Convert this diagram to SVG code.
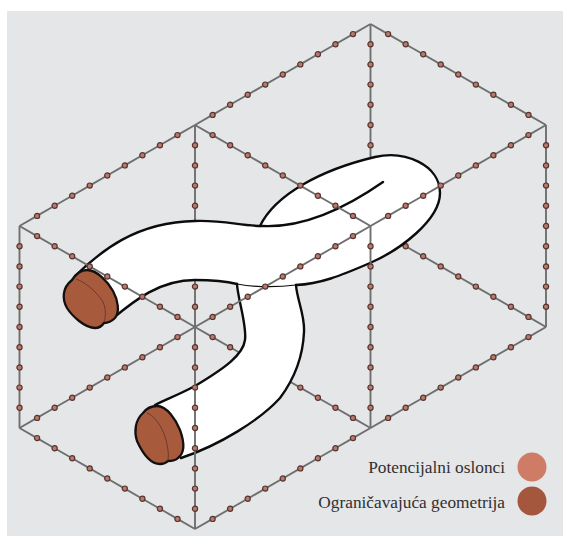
<svg xmlns="http://www.w3.org/2000/svg" xmlns:xlink="http://www.w3.org/1999/xlink" width="563" height="536" viewBox="0 0 563 536">
<style>
.e{fill:none;stroke:#6f6f6f;stroke-width:1.9;marker-mid:url(#dot)}
.t{fill:none;stroke:#0c0c0c;stroke-width:2.4;stroke-linecap:round}
.cap{fill:#a85a3c;stroke:#141010;stroke-width:2.3;stroke-linejoin:round}
.thin{fill:none;stroke:#5a3428;stroke-width:.8}
text{font-family:"Liberation Serif","Times New Roman",serif;font-size:17.3px;fill:#303030;text-anchor:end}
</style>
<defs>
<marker id="dot" markerUnits="userSpaceOnUse" markerWidth="8" markerHeight="8" refX="4" refY="4" overflow="visible"><circle cx="4" cy="4" r="2.6" fill="#b9796c" stroke="#553530" stroke-width="1.2"/></marker>
<polyline id="dr" class="e" points="0,0 17.55,10.1 35.1,20.2 52.65,30.3 70.2,40.4 87.75,50.5 105.3,60.6 122.85,70.7 140.4,80.8 157.95,90.9 175.5,101"/>
<polyline id="ur" class="e" points="0,0 17.55,-10.1 35.1,-20.2 52.65,-30.3 70.2,-40.4 87.75,-50.5 105.3,-60.6 122.85,-70.7 140.4,-80.8 157.95,-90.9 175.5,-101"/>
<polyline id="vt" class="e" points="0,0 0,20.2 0,40.4 0,60.6 0,80.8 0,101 0,121.2 0,141.4 0,161.6 0,181.8 0,202"/>
</defs>
<rect width="563" height="536" fill="#fff"/>
<rect x="7" y="11" width="556" height="525" fill="#e5e6e8"/>
<g id="frame-behind">
<use href="#dr" x="195" y="327"/>
<use href="#dr" x="370.5" y="226"/>
<use href="#dr" x="370.5" y="24"/>
<use href="#dr" x="19.5" y="428"/>
<use href="#ur" x="19.5" y="226"/>
<use href="#ur" x="195" y="125"/>
<use href="#ur" x="19.5" y="428"/>
<use href="#ur" x="195" y="529"/>
<use href="#ur" x="370.5" y="428"/>
<use href="#vt" x="19.5" y="226"/>
<use href="#vt" x="195" y="125"/>
<use href="#vt" x="370.5" y="24"/>
<use href="#vt" x="546" y="125"/>
</g>
<g id="tube">
<path fill="#fff" d="M237 284C238 300 247 325 245 340C243 355 225 368 195 386C180 394 165 400 155 405L181 458C220 445 260 420 280 398C295 378 303 355 304 332C305 315 297 300 296 285Z"/>
<path fill="#fff" d="M75 276C100 252 135 222 195 221C225 220 240 226 260 226C275 195 320 170 375 157C405 150 440 165 440 193C440 220 400 250 370 263C340 276 320 284 296 285C280 287 260 288 237 284C225 281 210 280 195 280C160 280 135 300 112 319Z"/>
<path class="t" d="M237 284C238 300 247 325 245 340C243 355 225 368 195 386C180 394 165 400 155 405"/>
<path class="t" d="M296 285C297 300 305 315 304 332C303 355 295 378 280 398C260 420 220 445 181 458"/>
<path class="t" d="M75 276C100 252 135 222 195 221C225 220 240 226 262 226C300 228 340 212 383 182"/>
<path class="t" d="M260 226C275 195 320 170 375 157C405 150 440 165 440 193C440 220 400 250 370 263C340 276 320 284 296 285"/>
<path class="t" style="stroke-width:1.2" d="M296 285C280 287 260 288 237 284"/>
<path class="t" d="M237 284C225 281 210 280 195 280C160 280 135 300 112 319"/>
</g>
<g id="frame-front">
<use href="#dr" x="19.5" y="226"/>
<use href="#dr" x="195" y="125"/>
<use href="#ur" x="195" y="327"/>
<use href="#ur" x="370.5" y="226"/>
<use href="#vt" x="195" y="327"/>
<use href="#vt" x="370.5" y="226"/>
</g>
<g id="cap-upper">
<path class="cap" d="M72 280C76 274 81 270 87 270C97 270 108 282 113 291C118 300 120 312 115 318C112 321 108 323 104 323C102 326 99 328 95 328C85 328 72 316 67 308C62 299 62 288 72 280Z"/>
<path class="thin" d="M76 279C85 282 97 292 103 302C106 309 106 316 104 322"/>
</g>
<g id="cap-lower">
<path class="cap" d="M143 413C146 409 151 406 157 406C167 406 176 420 180 430C184 441 186 452 178 458C176 460 172 461 168 461C166 463 163 464 160 464C150 464 142 452 137 441C134 432 135 420 143 413Z"/>
<path class="thin" d="M147 413C155 416 163 428 166 440C168 448 169 455 168 460"/>
</g>
<g id="legend">
<text x="505" y="473">Potencijalni oslonci</text>
<circle cx="532" cy="467" r="14.5" fill="#ce7c66"/>
<text x="505" y="508">Ograničavajuća geometrija</text>
<circle cx="532" cy="501" r="14.5" fill="#a5573d"/>
</g>
</svg>
